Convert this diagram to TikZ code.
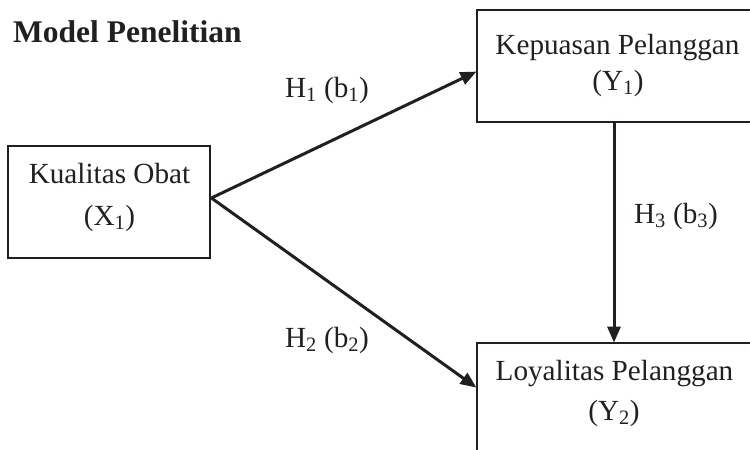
\documentclass[tikz,border=0pt]{standalone}
\usepackage{fontspec}
\setmainfont{Liberation Serif}
\usetikzlibrary{arrows.meta}
\definecolor{ink}{HTML}{231F20}
\tikzset{
  box/.style={draw=ink, line width=2.8pt, inner sep=0pt, fill=none},
  arr/.style={draw=ink, line width=3pt, -{Triangle[length=16pt,width=13pt]}, shorten >=-1pt},
  txt/.style={text=ink, inner sep=0pt, anchor=base, font=\fontsize{29.2}{34}\selectfont},
  ttl/.style={text=ink, inner sep=0pt, anchor=base west, font=\fontsize{31.5}{36}\selectfont\bfseries},
}
\begin{document}
\begin{tikzpicture}[x=1pt, y=-1pt]
\useasboundingbox (0,0) rectangle (750,450);
\begin{scope}
\clip (0,0) rectangle (750,450);
\node[box, minimum width=202pt, minimum height=112pt] (kual) at (109,202) {};
\node[box, minimum width=323pt, minimum height=112pt] (kep) at (638.5,66) {};
\node[box, minimum width=323pt, minimum height=157pt] (loy) at (638.5,421.5) {};
\end{scope}
\node[ttl] (title) at (13,42) {Model Penelitian};
\node[txt] (kualA) at (109.5,183) {Kualitas Obat};
\node[txt] (kualB) at (109.5,225) {(X\textsubscript{1})};
\node[txt] (kepA) at (617.5,54) {Kepuasan Pelanggan};
\node[txt] (kepB) at (618,90) {(Y\textsubscript{1})};
\node[txt] (loyA) at (614.5,380) {Loyalitas Pelanggan};
\node[txt] (loyB) at (614,420) {(Y\textsubscript{2})};
\node[txt] (h1) at (327,97) {H\textsubscript{1} (b\textsubscript{1})};
\node[txt] (h2) at (327,347) {H\textsubscript{2} (b\textsubscript{2})};
\node[txt] (h3) at (676,223) {H\textsubscript{3} (b\textsubscript{3})};
\coordinate (vx) at (614,0);
\draw[arr] ([yshift=4pt]kual.east) -- ([yshift=-6pt]kep.west);
\draw[arr] ([yshift=4pt]kual.east) -- ([yshift=34.5pt]loy.west);
\draw[arr] (kep.south -| vx) -- (loy.north -| vx);
\end{tikzpicture}
\end{document}
